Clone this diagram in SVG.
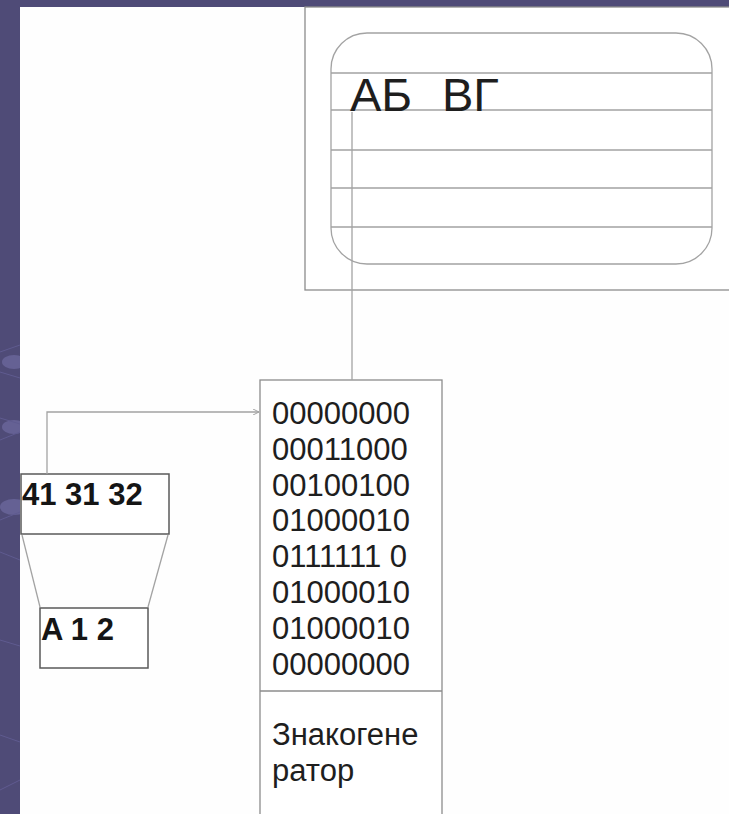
<svg xmlns="http://www.w3.org/2000/svg" width="729" height="814" viewBox="0 0 729 814">
<style>
.t{font-family:"Liberation Sans",Arial,sans-serif;fill:#1e1e1e}
.b{font-weight:bold;fill:#151515}
.ln{fill:none;stroke:#a3a3a3;stroke-width:1.3}
.bx{fill:#fff;stroke:#8c8c8c;stroke-width:1.3}
.dk{fill:#fff;stroke:#5a5a5a;stroke-width:1.5}
</style>
<defs>
<marker id="ah" markerWidth="6" markerHeight="6" refX="6" refY="3" orient="auto" markerUnits="userSpaceOnUse">
<path d="M0,0 L6,3 L0,6" fill="none" stroke="#a3a3a3" stroke-width="1"/>
</marker>
</defs>
<rect x="0" y="0" width="729" height="814" fill="#4f4b77"/>
<g opacity="0.6">
<ellipse cx="14" cy="362" rx="12" ry="7" fill="#7470a8"/>
<ellipse cx="14" cy="427" rx="12" ry="7" fill="#7470a8"/>
<ellipse cx="14" cy="507" rx="14" ry="8" fill="#7470a8"/>
<path d="M0,352 L20,345 M0,372 L20,378 M0,440 L20,432 M0,418 L20,424 M0,520 L20,512 M0,552 L20,560 M0,640 L20,646 M0,735 L20,742 M0,790 L20,780" stroke="#6a66a0" stroke-width="1" fill="none"/>
</g>
<rect x="20" y="7" width="709" height="807" fill="#fefefe"/>

<g id="monitor">
<rect x="305" y="7" width="440" height="283" class="bx" fill="none"/>
<rect x="331" y="33" width="381" height="231" rx="36" ry="36" class="ln"/>
<path d="M331,73 H712 M331,110 H712 M331,150 H712 M331,188 H712 M331,227 H712" class="ln"/>
<text class="t" font-size="47" y="111"><tspan x="350">АБ</tspan><tspan x="442">ВГ</tspan></text>
</g>

<g id="chargen">
<rect x="260" y="380" width="182" height="440" class="bx"/>
<line x1="260" y1="691" x2="442" y2="691" stroke="#8c8c8c" stroke-width="1.3"/>
<g class="t" font-size="31">
<text x="272" y="424">00000000</text>
<text x="272" y="460">00011000</text>
<text x="272" y="496">00100100</text>
<text x="272" y="531">01000010</text>
<text x="272" y="567">0111111 0</text>
<text x="272" y="603">01000010</text>
<text x="272" y="639">01000010</text>
<text x="272" y="675">00000000</text>
<text x="272" y="745">Знакогене</text>
<text x="272" y="781">ратор</text>
</g>
</g>

<g id="code-box">
<rect x="21" y="474" width="148" height="60" class="dk"/>
<text x="22" y="505" class="t b" font-size="31">41 31 32</text>
</g>

<g id="char-box">
<rect x="40" y="608" width="108" height="60" class="dk"/>
<text x="41" y="640" class="t b" font-size="31">A 1 2</text>
</g>

<g id="connectors">
<line x1="352" y1="112" x2="352" y2="380" class="ln"/>
<polyline points="47,474 47,412 259,412" class="ln" marker-end="url(#ah)"/>
<line x1="22" y1="535" x2="40" y2="607" class="ln"/>
<line x1="168" y1="535" x2="148" y2="607" class="ln"/>
</g>
</svg>
